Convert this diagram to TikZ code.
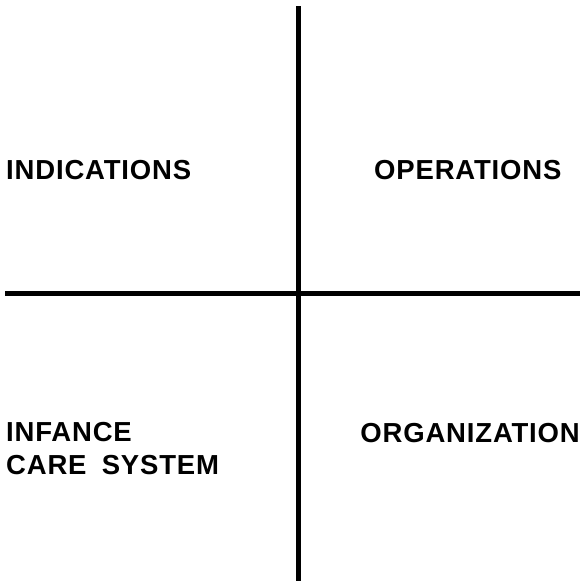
\documentclass[tikz,border=0pt]{standalone}
\usepackage{fontspec}
\setmainfont{Liberation Sans}
% slightly open lettering for the quadrant labels
\newfontfamily\labelfont{Liberation Sans}[LetterSpace=3,WordSpace=1.8]
\begin{document}
\begin{tikzpicture}[x=1pt,y=-1pt,
  axis/.style={line width=5pt,black},
  label/.style={inner sep=0pt,font=\labelfont\fontsize{27.5}{33}\selectfont\bfseries}]
\useasboundingbox (0,0) rectangle (580,581);
% the two crossing rules
\coordinate (top) at (298,6);
\coordinate (bottom) at (298,581);
\coordinate (left) at (5,293);
\coordinate (right) at (580,293);
\draw[axis] (top) -- (bottom);
\draw[axis] (left) -- (right);
% quadrant labels
\node[label,anchor=base west] (ind) at (6,179) {INDICATIONS};
\node[label,anchor=base west] (ops) at (374,179) {OPERATIONS};
\node[label,anchor=base west] (inf1) at (6,441) {INFANCE};
\node[label,anchor=base west] (inf2) at (6,474) {CARE SYSTEM};
\node[label,anchor=base east] (org) at (580,442) {ORGANIZATION};
\end{tikzpicture}
\end{document}
